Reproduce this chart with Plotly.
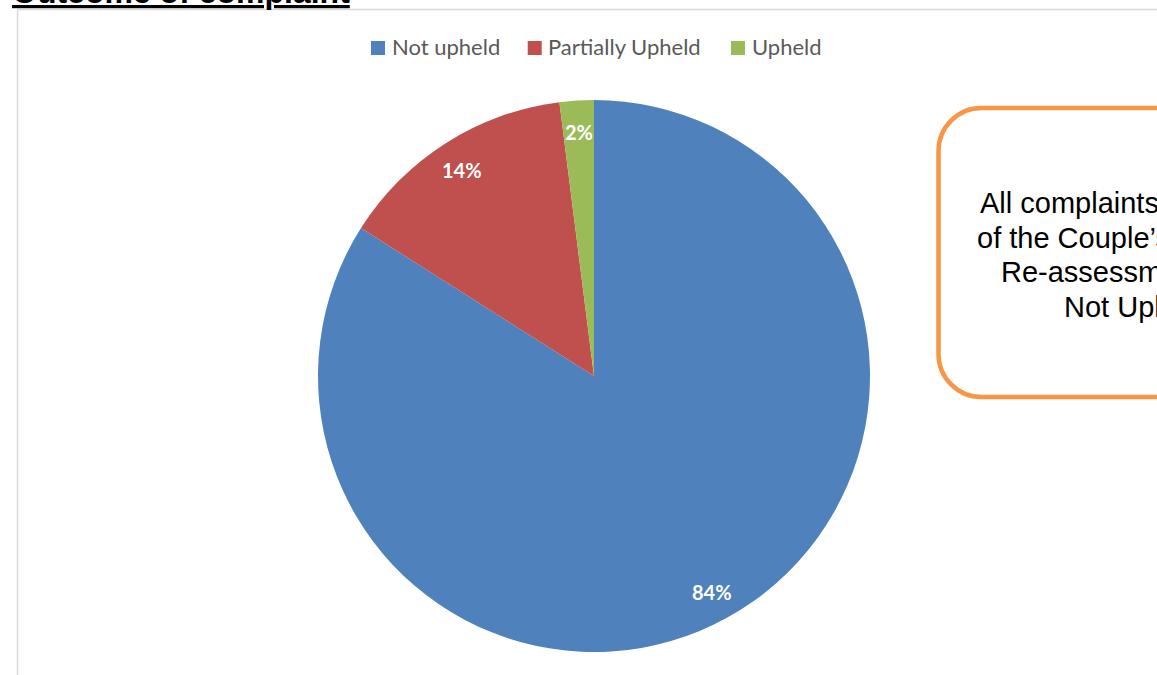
import math
import plotly.graph_objects as go

# Complaint outcomes (percent of all complaints)
outcomes = ["Not upheld", "Partially Upheld", "Upheld"]
shares = [84, 14, 2]
slice_colors = ["#4F81BD", "#C0504D", "#9BBB59"]

title_text = "Outcome of complaint"
note_lines = [
    "All complaints in respect",
    "of the Couple\u2019s Pensions",
    "Re-assessment were",
    "Not Upheld",
]

W, H = 1157, 675


def px(x):
    return x / W


def py(y):
    return 1 - y / H


# pie geometry in pixels
cx, cy, R = 594, 376, 276

fig = go.Figure(
    go.Pie(
        labels=outcomes,
        values=shares,
        sort=False,
        direction="clockwise",
        rotation=0,
        marker=dict(colors=slice_colors, line=dict(width=0)),
        textinfo="none",
        hoverinfo="label+percent",
        showlegend=False,
        domain=dict(x=[px(cx - R), px(cx + R)], y=[py(cy + R), py(cy - R)]),
    )
)

annotations = []
shapes = []

# percentage labels at the middle angle of each slice
total = sum(shares)
cum = 0
for v in shares:
    mid = (cum + v / 2) / total * 2 * math.pi
    cum += v
    r = 0.89 * R
    lx = cx + r * math.sin(mid)
    ly = cy - r * math.cos(mid) + 1
    annotations.append(
        dict(
            x=px(lx), y=py(ly), xref="paper", yref="paper",
            text=f"<b>{round(v / total * 100)}%</b>",
            showarrow=False, xanchor="center", yanchor="middle",
            font=dict(family="Lato", size=20, color="white"),
        )
    )

# legend row
legend_x = [371, 527.7, 731]
for name, col, lx in zip(outcomes, slice_colors, legend_x):
    shapes.append(
        dict(
            type="rect", xref="paper", yref="paper",
            x0=px(lx), x1=px(lx + 14), y0=py(55), y1=py(41),
            fillcolor=col, line=dict(width=0),
        )
    )
    annotations.append(
        dict(
            x=px(lx + 18.5), y=py(47), xref="paper", yref="paper",
            text=name, showarrow=False, xanchor="left", yanchor="middle",
            font=dict(family="Lato", size=22, color="#595959"),
        )
    )

# chart frame (left and top edges)
shapes.append(dict(type="line", xref="paper", yref="paper",
                   x0=px(17.5), x1=px(17.5), y0=py(9.5), y1=py(H + 5),
                   line=dict(color="#d9d9d9", width=1.5)))
shapes.append(dict(type="line", xref="paper", yref="paper",
                   x0=px(17.5), x1=px(W + 5), y0=py(9.5), y1=py(9.5),
                   line=dict(color="#d9d9d9", width=1.5)))

# rounded callout box
bl, bt, br, bb, rad = 938.5, 108, 1334, 397, 43
k = 0.5523 * rad


def P(x, y):
    return f"{px(x):.6f},{py(y):.6f}"


path = (
    f"M{P(bl + rad, bt)} L{P(br - rad, bt)} "
    f"C{P(br - rad + k, bt)} {P(br, bt + rad - k)} {P(br, bt + rad)} "
    f"L{P(br, bb - rad)} "
    f"C{P(br, bb - rad + k)} {P(br - rad + k, bb)} {P(br - rad, bb)} "
    f"L{P(bl + rad, bb)} "
    f"C{P(bl + rad - k, bb)} {P(bl, bb - rad + k)} {P(bl, bb - rad)} "
    f"L{P(bl, bt + rad)} "
    f"C{P(bl, bt + rad - k)} {P(bl + rad - k, bt)} {P(bl + rad, bt)} Z"
)
shapes.append(dict(type="path", xref="paper", yref="paper", path=path,
                   fillcolor="rgba(255,255,255,0)",
                   line=dict(color="#F79646", width=4.5)))

# callout text, one centred line at a time (35 px leading)
text_cx, first_line_y, leading = 1136.5, 203, 34.7
for i, line in enumerate(note_lines):
    annotations.append(
        dict(
            x=px(text_cx), y=py(first_line_y + i * leading),
            xref="paper", yref="paper",
            text=line, showarrow=False,
            xanchor="center", yanchor="middle", align="center",
            font=dict(family="Liberation Sans, Arial", size=29, color="black"),
        )
    )

# section heading, partly above the top edge
annotations.append(
    dict(
        x=px(10), y=py(-8), xref="paper", yref="paper",
        text=f"<b><u>{title_text}</u></b>", showarrow=False,
        xanchor="left", yanchor="middle",
        font=dict(family="Liberation Sans, Arial", size=32, color="black"),
    )
)

fig.update_layout(
    width=W, height=H,
    margin=dict(l=0, r=0, t=0, b=0),
    paper_bgcolor="white", plot_bgcolor="white",
    annotations=annotations, shapes=shapes,
)

fig.write_html("out.html")
